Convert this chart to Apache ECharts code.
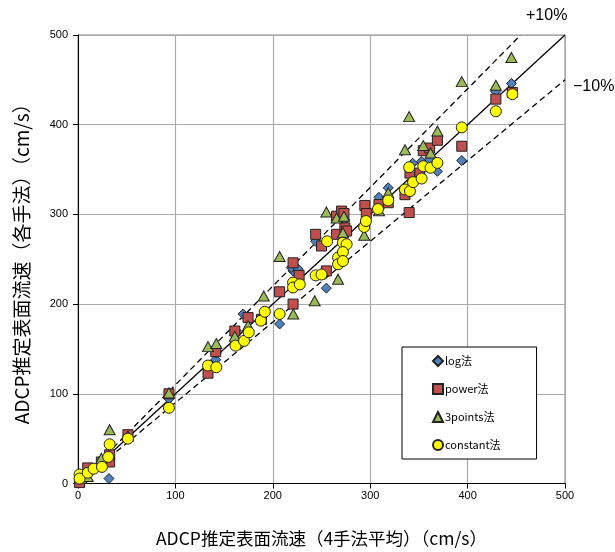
<!DOCTYPE html>
<html>
<head>
<meta charset="utf-8">
<script src="https://cdn.jsdelivr.net/npm/echarts@6/dist/echarts.min.js"></script>
<style>
  html, body { margin: 0; padding: 0; background: #fff; }
  #chart { width: 615px; height: 552px; }
</style>
</head>
<body>
<div id="chart"></div>
<script>
// Surface velocity from each method vs. the 4-method average (cm/s)
const seriesNames = ['log法', 'power法', '3points法', 'constant法'];

const logData = [
  [1.6, 4], [10, 9], [31.8, 5.5], [51, 52], [93.4, 94.4], [141.4, 138], [142, 145.6],
  [162.7, 170], [169.5, 189], [207, 177.8], [220.8, 237], [219, 240.7], [226, 239],
  [244, 270], [255, 217.8], [274, 294], [275.8, 279], [309, 319], [318.5, 329.6],
  [343.6, 357], [352.8, 359], [361, 361], [369, 348], [394, 360], [429, 437], [445, 446]
];

const powerData = [
  [1.6, 1], [10, 17.4], [24, 24], [32.5, 24], [32.5, 32], [51.3, 54.4], [93.4, 100],
  [133.5, 123], [141.4, 147], [161, 170], [174.6, 185], [188.4, 183], [207, 213.7],
  [220.8, 246], [220.8, 200], [227, 232], [244, 277.8], [250, 264.8], [255, 237],
  [265.5, 277.8], [265.5, 298], [270.6, 303.7], [273, 301], [274, 285], [275.8, 281.5],
  [294.5, 310], [296, 301], [309, 311], [318.5, 313], [335.7, 322], [340, 302],
  [340.8, 346], [351, 346], [354.5, 371], [361, 374], [369, 382.6], [394, 376],
  [429, 428.5], [446, 436]
];

const threePointsData = [
  [3.4, 6], [10, 7.8], [24, 28], [32.5, 60], [51.3, 53], [93.4, 101], [133.5, 152.6],
  [142, 156], [161, 164], [174.6, 176], [190.7, 209], [207, 253], [221, 189],
  [243, 203.7], [255, 302.6], [265.5, 296], [267, 227.8], [272, 279.6], [273, 298],
  [293.8, 276.7], [309, 304], [318.5, 324], [335.7, 372], [340, 409], [354.5, 376.7],
  [362, 368.5], [369, 393], [394, 448], [429, 444], [445, 475]
];

const constantData = [
  [1.6, 10], [1.6, 5.5], [10, 12], [16, 16.5], [24.6, 18.5], [31, 29.6], [32.5, 43.7],
  [51.3, 50], [93.4, 84.4], [133.5, 131.5], [142, 129.6], [161.7, 153.7], [170.5, 159],
  [175.3, 168.5], [187.7, 181.5], [191.8, 191.5], [207, 189], [220.8, 224], [220.8, 218.5],
  [227.7, 222], [244, 232], [250, 233], [255.8, 270], [267, 252], [267, 244.4],
  [272, 268.5], [275.8, 266.7], [272, 258], [272, 248], [293.8, 286], [295.6, 292.6],
  [308, 306], [318.5, 315.6], [335.7, 327.8], [340.8, 326], [340, 352.6], [344, 336],
  [352.8, 340], [354.5, 353.7], [362, 352], [369, 357.4], [394, 397], [429, 415], [446, 434]
];

// Reference lines: 1:1 and ±10 %
const lineEqual = [[0, 0], [500, 500]];
const linePlus10 = [[0, 0], [454.5, 500]];
const lineMinus10 = [[0, 0], [500, 450]];

const axisTicks = [0, 100, 200, 300, 400, 500];

const chart = echarts.init(document.getElementById('chart'), null, { renderer: 'canvas' });

const markerBorder = { borderColor: '#222', borderWidth: 1 };
const jpFont = '"Noto Sans CJK JP", "Noto Sans", sans-serif';
const numFont = '"Liberation Sans", Arial, sans-serif';

function refLine(data, dashed) {
  return {
    type: 'line',
    data: data,
    symbol: 'none',
    silent: true,
    z: 1,
    lineStyle: { color: '#000', width: 1.3, type: dashed ? [6, 4] : 'solid' },
    animation: false
  };
}

chart.setOption({
  animation: false,
  backgroundColor: '#fff',
  grid: { left: 78, top: 35, right: 50, bottom: 67, show: true, borderColor: '#808080', borderWidth: 1 },
  xAxis: {
    type: 'value', min: 0, max: 500, interval: 100,
    name: 'ADCP推定表面流速（4手法平均）（cm/s）',
    nameLocation: 'middle', nameGap: 46,
    nameTextStyle: { fontFamily: jpFont, fontSize: 17.5, color: '#000' },
    axisLine: { show: true, lineStyle: { color: '#000', width: 1 } },
    axisTick: { show: true, length: 5, lineStyle: { color: '#000' } },
    axisLabel: { color: '#000', fontSize: 11, fontFamily: numFont, margin: 7,
      formatter: v => axisTicks.includes(v) ? String(v) : '' },
    splitLine: { show: true, lineStyle: { color: '#ababab', width: 1.2 } }
  },
  yAxis: {
    type: 'value', min: 0, max: 500, interval: 100,
    name: 'ADCP推定表面流速（各手法）（cm/s）',
    nameLocation: 'middle', nameGap: 47, nameRotate: 90,
    nameTextStyle: { fontFamily: jpFont, fontSize: 19, color: '#000' },
    axisLine: { show: true, lineStyle: { color: '#000', width: 1 } },
    axisTick: { show: true, length: 5, lineStyle: { color: '#000' } },
    axisLabel: { color: '#000', fontSize: 11, fontFamily: numFont, margin: 10,
      formatter: v => axisTicks.includes(v) ? String(v) : '' },
    splitLine: { show: true, lineStyle: { color: '#ababab', width: 1.2 } }
  },
  legend: {
    data: seriesNames,
    orient: 'vertical',
    left: 402, top: 347,
    padding: [8, 36, 8, 30],
    itemWidth: 10, itemHeight: 10, itemGap: 16,
    backgroundColor: '#fff',
    borderColor: '#000', borderWidth: 1,
    textStyle: { fontFamily: jpFont, fontSize: 11, color: '#000', lineHeight: 10, padding: [0, 0, 0, -3] }
  },
  graphic: [
    { type: 'text', left: 526, top: 8, style: { text: '+10%', fontSize: 16, fontFamily: numFont, fill: '#000' } },
    { type: 'text', left: 573, top: 79, style: { text: '\u221210%', fontSize: 16, fontFamily: numFont, fill: '#000' } }
  ],
  series: [
    refLine(lineEqual, false),
    refLine(linePlus10, true),
    refLine(lineMinus10, true),
    {
      name: seriesNames[0], type: 'scatter', data: logData, z: 3,
      symbol: 'diamond', symbolSize: 10,
      itemStyle: Object.assign({ color: '#4F81BD', opacity: 1 }, markerBorder)
    },
    {
      name: seriesNames[1], type: 'scatter', data: powerData, z: 4,
      symbol: 'rect', symbolSize: 10,
      itemStyle: Object.assign({ color: '#C0504D', opacity: 1 }, markerBorder)
    },
    {
      name: seriesNames[2], type: 'scatter', data: threePointsData, z: 5,
      symbol: 'triangle', symbolSize: [11, 10],
      itemStyle: Object.assign({ color: '#9BBB59', opacity: 1 }, markerBorder)
    },
    {
      name: seriesNames[3], type: 'scatter', data: constantData, z: 6,
      symbol: 'circle', symbolSize: 11,
      itemStyle: Object.assign({ color: '#FFFF00', opacity: 1 }, markerBorder)
    }
  ]
});
</script>
</body>
</html>
